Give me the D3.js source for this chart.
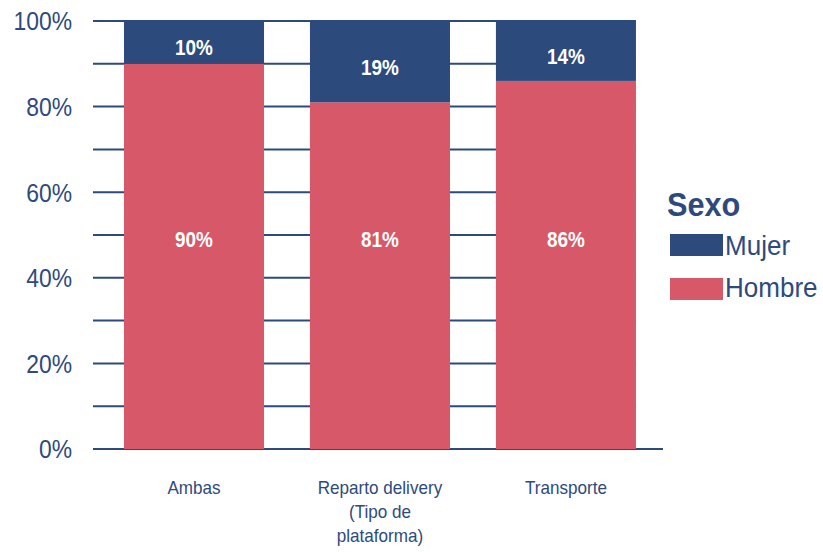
<!DOCTYPE html>
<html lang="es">
<head>
  <meta charset="UTF-8">
  <title>Sexo por tipo de plataforma</title>
  <script src="https://d3js.org/d3.v7.min.js"></script>
  <style>
    html, body { margin: 0; background: #fff; }
    svg { display: block; }
    text { font-family: "Liberation Sans Narrow", "Arial Narrow", "Liberation Sans", Arial, sans-serif; fill: #2E4A7D; }
  </style>
</head>
<body>
  <svg width="823" height="552"></svg>
  <script>
    // data
    const categories = ["Ambas", "Reparto delivery (Tipo de plataforma)", "Transporte"];
    const categoryLines = [["Ambas"], ["Reparto delivery", "(Tipo de", "plataforma)"], ["Transporte"]];
    const hombre = [90, 81, 86];
    const mujer = [10, 19, 14];
    const yTicks = [0, 20, 40, 60, 80, 100];
    const gridTicks = [10, 20, 30, 40, 50, 60, 70, 80, 90, 100];

    const navy = "#2D4A7C", red = "#D75868";
    const sx = 0.86; // squeeze text horizontally, the original uses a narrow face
    const svg = d3.select("svg");

    const x = d3.scaleBand().domain(categories).range([93, 663])
      .paddingInner(0.247).paddingOuter(0.156).align(0.534);
    const y = d3.scaleLinear().domain([0, 100]).range([449, 21]);

    // gridlines (behind bars)
    svg.append("g").selectAll("line")
      .data(gridTicks)
      .enter().append("line")
      .attr("x1", 93).attr("x2", x(categories[2]) + x.bandwidth())
      .attr("y1", d => y(d)).attr("y2", d => y(d))
      .attr("stroke", navy).attr("stroke-width", 2);

    svg.append("line")
      .attr("x1", 93).attr("x2", 663)
      .attr("y1", y(0)).attr("y2", y(0))
      .attr("stroke", navy).attr("stroke-width", 2);

    // y labels
    svg.append("g").selectAll("text")
      .data(yTicks)
      .enter().append("text")
      .attr("transform", d => `translate(72,${y(d)}) scale(0.88,1)`)
      .attr("dy", "0.36em")
      .attr("text-anchor", "end")
      .attr("font-size", 26)
      .text(d => d + "%");

    // bars
    const bars = svg.append("g");
    bars.selectAll("rect.h")
      .data(categories)
      .enter().append("rect")
      .attr("class", "h")
      .attr("x", d => x(d)).attr("width", x.bandwidth())
      .attr("y", (d, i) => y(hombre[i]))
      .attr("height", (d, i) => y(0) - y(hombre[i]))
      .attr("fill", red);
    bars.selectAll("rect.m")
      .data(categories)
      .enter().append("rect")
      .attr("class", "m")
      .attr("x", d => x(d)).attr("width", x.bandwidth())
      .attr("y", (d, i) => y(hombre[i] + mujer[i]))
      .attr("height", (d, i) => y(hombre[i]) - y(hombre[i] + mujer[i]))
      .attr("fill", navy);

    // value labels
    const lab = svg.append("g").attr("font-weight", "bold").attr("font-size", 22).attr("text-anchor", "middle");
    lab.selectAll("text.m")
      .data(categories)
      .enter().append("text")
      .attr("transform", (d, i) => `translate(${x(d) + x.bandwidth() / 2},${(y(hombre[i]) + y(100)) / 2 + 5}) scale(${sx},1)`)
      .attr("dy", "0.36em")
      .style("fill", "#fff")
      .text((d, i) => mujer[i] + "%");
    lab.selectAll("text.h")
      .data(categories)
      .enter().append("text")
      .attr("transform", d => `translate(${x(d) + x.bandwidth() / 2},${y(50) + 4}) scale(${sx},1)`)
      .attr("dy", "0.36em")
      .style("fill", "#fff")
      .text((d, i) => hombre[i] + "%");

    // x labels
    const xl = svg.append("g").selectAll("text")
      .data(categories)
      .enter().append("text")
      .attr("text-anchor", "middle")
      .attr("font-size", 18)
      .attr("transform", d => `translate(${x(d) + x.bandwidth() / 2},494) scale(0.95,1)`);
    xl.each(function(d, i) {
      d3.select(this).selectAll("tspan")
        .data(categoryLines[i])
        .enter().append("tspan")
        .attr("x", 0).attr("dy", (t, j) => j === 0 ? 0 : 24)
        .text(t => t);
    });

    // legend
    const lg = svg.append("g");
    lg.append("text").attr("transform", `translate(667,216) scale(0.93,1)`)
      .attr("font-size", 33).attr("font-weight", "bold")
      .text("Sexo");
    [["Mujer", navy], ["Hombre", red]].forEach(([name, col], i) => {
      lg.append("rect").attr("x", 670).attr("y", 234 + i * 44).attr("width", 53).attr("height", 22).attr("fill", col);
      lg.append("text").attr("transform", `translate(725,${245 + i * 42}) scale(0.93,1)`).attr("dy", "0.36em")
        .attr("font-size", 28).text(name);
    });
  </script>
</body>
</html>
